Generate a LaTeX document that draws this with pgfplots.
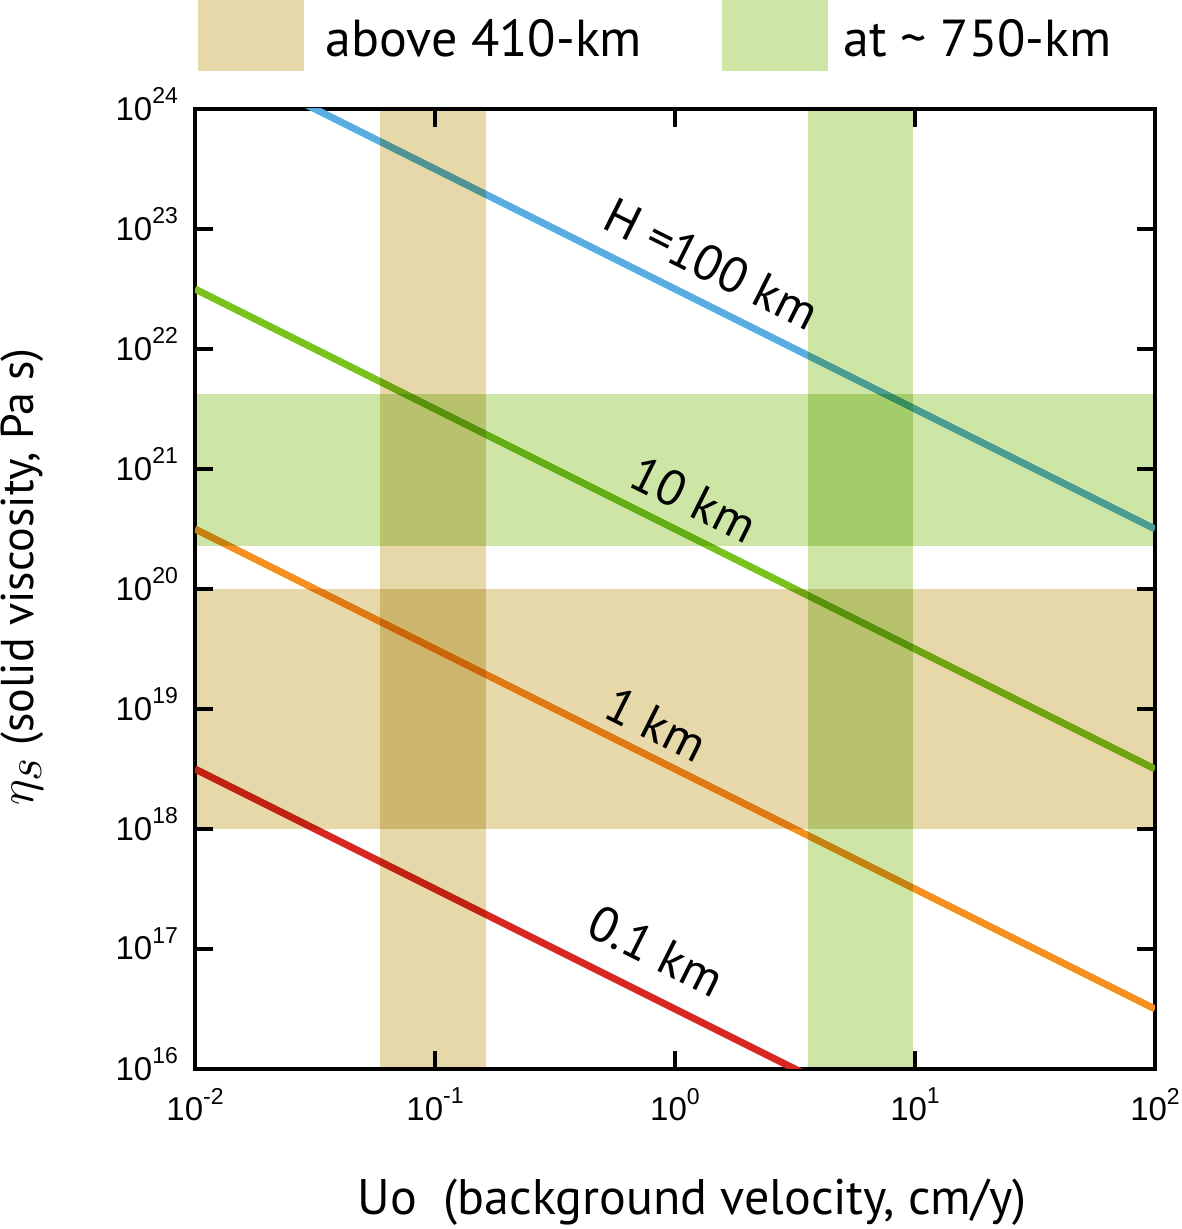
\documentclass[border=0pt]{standalone}
\usepackage{pgfplots}
\pgfplotsset{compat=1.18}
\usepackage{fontspec}
\setmainfont{PT Sans}
\newfontfamily\arial{Liberation Sans}
\definecolor{cblue}{RGB}{90,174,223}
\definecolor{cgreen}{RGB}{122,193,30}
\definecolor{corange}{RGB}{247,144,30}
\definecolor{cred}{RGB}{215,40,30}
\definecolor{tanc}{RGB}{230,216,168}
\definecolor{lgreen}{RGB}{205,229,165}
\newcommand\tl[1]{{\arial\fontsize{16.5}{18}\selectfont 10\raisebox{0.5em}{\fontsize{11.5}{12}\selectfont #1}}}
\begin{document}
\begin{tikzpicture}
\useasboundingbox (-97.5pt,-80pt) rectangle (493pt,534.5pt);
\begin{axis}[
  xmode=log, ymode=log,
  width=480pt, height=480pt, scale only axis,
  xmin=0.01, xmax=100, ymin=1e16, ymax=1e24,
  xtick={0.01,0.1,1,10,100},
  ytick={1e16,1e17,1e18,1e19,1e20,1e21,1e22,1e23,1e24},
  xticklabels={\tl{-2},\tl{-1},\tl{0},\tl{1},\tl{2}},
  yticklabels={\tl{16},\tl{17},\tl{18},\tl{19},\tl{20},\tl{21},\tl{22},\tl{23},\tl{24}},
  xminorticks=false, yminorticks=false,
  tick align=inside, major tick length=9pt,
  every tick/.style={black, line width=2pt},
  axis line style={line width=1.7pt},
  xticklabel style={yshift=-6pt},
  yticklabel style={xshift=-5pt, yshift=2.5pt},
  xlabel={Uo\ \ (background velocity, cm/y)},
  xlabel style={at={(axis description cs:0.5177,-0.152)}, anchor=base, font=\fontsize{25}{30}\selectfont},
  ylabel={{\fontsize{36}{38}\selectfont$\eta_s$} (solid viscosity, Pa s)},
  ylabel style={at={(axis description cs:-0.1795,0.5125)}, anchor=center, font=\fontsize{23}{28}\selectfont},
]
\addplot[cblue, line width=3.5pt] coordinates {(0.01,3.162e24) (100,3.162e20)};
\addplot[cgreen, line width=3.5pt] coordinates {(0.01,3.162e22) (100,3.162e18)};
\addplot[corange, line width=3.5pt] coordinates {(0.01,3.162e20) (100,3.162e16)};
\addplot[cred, line width=3.5pt] coordinates {(0.01,3.162e18) (100,3.162e14)};
% bands
\addplot[draw=none, fill=tanc, blend mode=multiply] coordinates {(0.059,1e16) (0.163,1e16) (0.163,1e24) (0.059,1e24)};
\addplot[draw=none, fill=lgreen, blend mode=multiply] coordinates {(3.58,1e16) (9.8,1e16) (9.8,1e24) (3.58,1e24)};
\addplot[draw=none, fill=lgreen, blend mode=multiply] coordinates {(0.01,2.3e20) (100,2.3e20) (100,4.2e21) (0.01,4.2e21)};
\addplot[draw=none, fill=tanc, blend mode=multiply] coordinates {(0.01,1e18) (100,1e18) (100,1e20) (0.01,1e20)};
\node[rotate=-26.57, font=\fontsize{25}{28}\selectfont] at (axis cs:1.42,5.1e22) {H =100 km};
\node[rotate=-26.57, font=\fontsize{25}{28}\selectfont] at (axis cs:1.20,5.6e20) {10 km};
\node[rotate=-26.57, font=\fontsize{25}{28}\selectfont] at (axis cs:0.836,7.5e18) {1 km};
\node[rotate=-26.57, font=\fontsize{25}{28}\selectfont] at (axis cs:0.836,9.6e16) {0.1 km};
\end{axis}
\fill[tanc] (1.5pt,499pt) rectangle (54.5pt,534.5pt);
\node[anchor=base west, inner sep=0pt, font=\fontsize{26}{30}\selectfont] at (65pt,506pt) {above 410-km};
\fill[lgreen] (263.5pt,499pt) rectangle (316.5pt,534.5pt);
\node[anchor=base west, inner sep=0pt, font=\fontsize{26}{30}\selectfont] at (324pt,506pt) {at \textasciitilde{} 750-km};
\end{tikzpicture}
\end{document}
